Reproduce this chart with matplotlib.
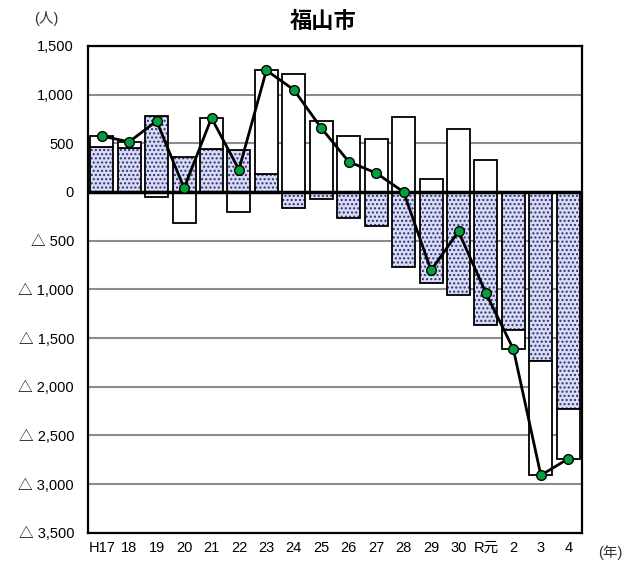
import numpy as np
import matplotlib
matplotlib.use("Agg")
import matplotlib.pyplot as plt
from matplotlib.ticker import FuncFormatter

plt.rcParams['font.family'] = ['Liberation Sans', 'Noto Sans CJK JP', 'DejaVu Sans']

# =============================
# Data (人)
# =============================
years = ["H17", "18", "19", "20", "21", "22", "23", "24", "25", "26",
         "27", "28", "29", "30", "R元", "2", "3", "4"]
dotted = [465, 450, 780, 360, 445, 435, 180, -165, -68, -267,
          -350, -770, -940, -1055, -1370, -1420, -1740, -2230]
white = [110, 65, -50, -320, 315, -205, 1070, 1215, 725, 578,
         545, 770, 135, 650, 330, -195, -1170, -510]
total = [575, 515, 730, 40, 760, 230, 1250, 1050, 657, 311,
         195, 0, -805, -405, -1040, -1615, -2910, -2740]

# =============================
# Figure
# =============================
fig = plt.figure(figsize=(6.29, 5.67), dpi=100)
ax = fig.add_axes([0.1399, 0.0605, 0.7854, 0.8584])

x = np.arange(len(years))
dotted = np.array(dotted)
white = np.array(white)
# excel-style stacking: same sign stacks on top, opposite sign starts at 0
white_bottom = np.where(np.sign(white) == np.sign(dotted), dotted, 0)

BW = 0.84

# dotted bars: fill + navy dots, then black outline
ax.bar(x, dotted, width=BW, color="#d9dcf0", edgecolor="#2a2f80",
       linewidth=0, hatch="....", zorder=2)
ax.bar(x, dotted, width=BW, fill=False, edgecolor="black",
       linewidth=1.3, zorder=3)
# white bars
ax.bar(x, white, bottom=white_bottom, width=BW, color="white",
       edgecolor="black", linewidth=1.3, zorder=3)

# total line
ax.plot(x, total, color="black", linewidth=2, zorder=5,
        marker="o", markersize=7, markerfacecolor="#00a03c",
        markeredgecolor="black", markeredgewidth=1)

ax.axhline(0, color="black", linewidth=2.5, zorder=4)

# =============================
# Axes styling
# =============================
ax.set_xlim(-0.5, len(years) - 0.5)
ax.set_ylim(-3500, 1500)
ax.set_yticks(np.arange(-3500, 1501, 500))


def fmt(v, pos):
    if v < 0:
        return "△ {:,}".format(int(-v))
    return "{:,}".format(int(v))


ax.yaxis.set_major_formatter(FuncFormatter(fmt))
ax.set_xticks(x)
ax.set_xticklabels(years)
ax.tick_params(axis="both", length=0, labelsize=10.5, colors="black")
ax.tick_params(axis="y", pad=10)
ax.tick_params(axis="x", pad=6)

ax.grid(axis="y", color="#8c8c8c", linewidth=1.5, zorder=0)
ax.set_axisbelow(True)
for s in ax.spines.values():
    s.set_linewidth(1.6)
    s.set_color("black")

fig.text(323 / 629, 1 - 22 / 567, "福山市", ha="center", va="center",
         fontsize=16, fontweight="bold")
fig.text(46 / 629, 1 - 18 / 567, "(人)", ha="center", va="center",
         fontsize=10.5, color="#333333")
fig.text(610 / 629, 1 - 553 / 567, "(年)", ha="center", va="center",
         fontsize=10.5, color="#333333")

fig.savefig("out.png", dpi=100)
